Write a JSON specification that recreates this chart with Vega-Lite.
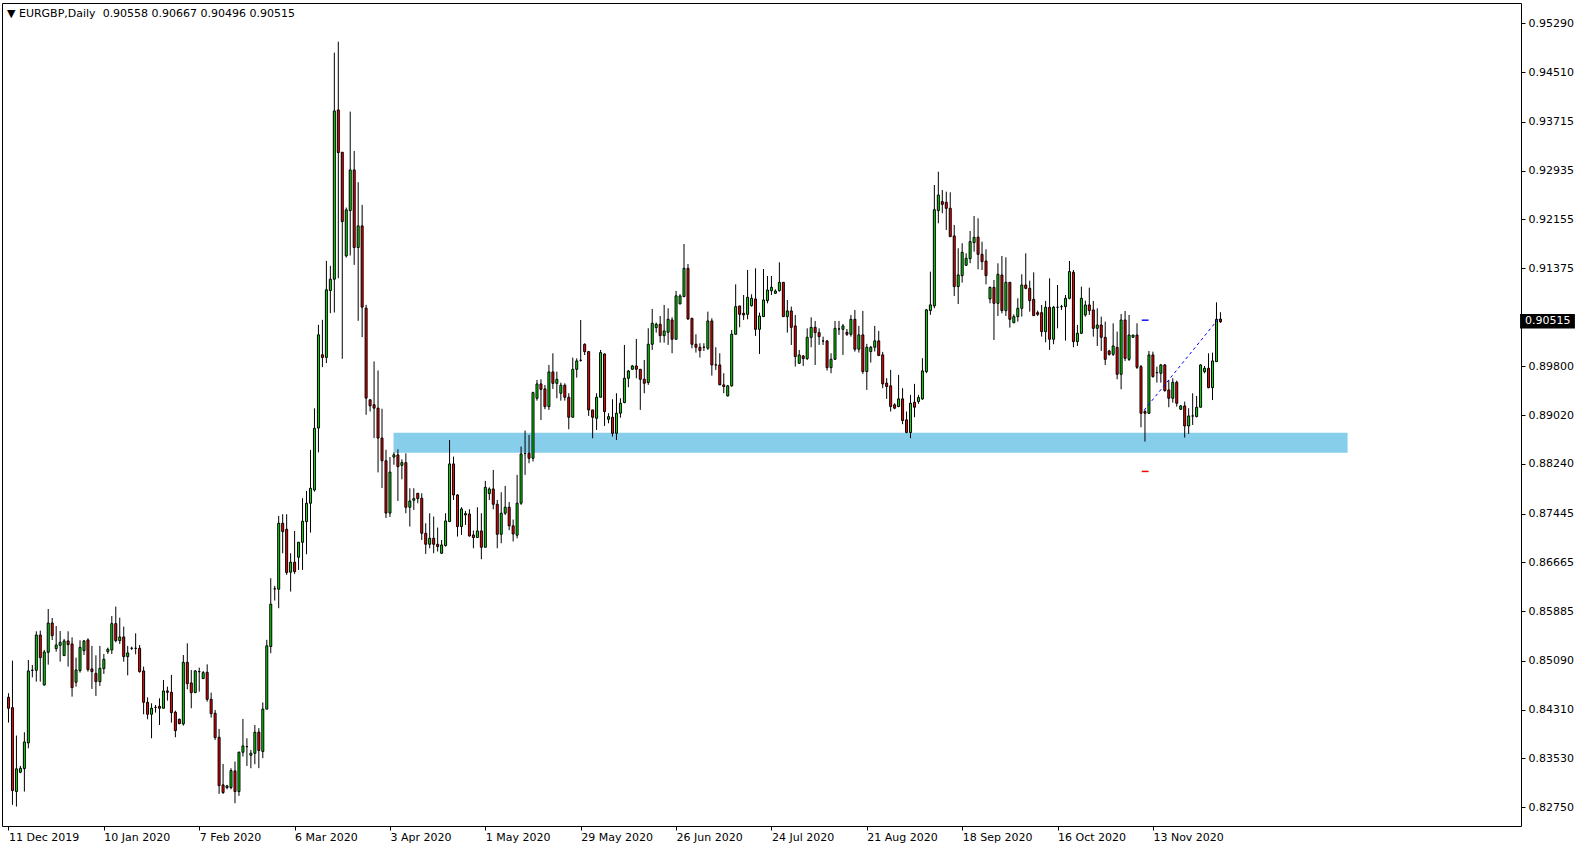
{
"$schema": "https://vega.github.io/schema/vega-lite/v6.json",
"width": 1519, "height": 823,
"autosize": {"type": "none"},
"padding": {"left": 2, "top": 3, "right": 64, "bottom": 24},
"background": "white",
"config": {"view": {"stroke": "black", "strokeWidth": 1}, "font": "DejaVu Sans"},
"title": {"text": "▼ EURGBP,Daily\u00a0 0.90558 0.90667 0.90496 0.90515", "anchor": "start", "orient": "top", "frame": "group", "offset": -16, "dx": 5, "font": "DejaVu Sans", "fontSize": 11, "fontWeight": "normal", "color": "black"},
"datasets": {
"candles": [
{"i":0,"o":0.84507,"h":0.84571,"l":0.84102,"c":0.84331},
{"i":1,"o":0.84341,"h":0.85093,"l":0.82785,"c":0.83014},
{"i":2,"o":0.82998,"h":0.83894,"l":0.82758,"c":0.83361},
{"i":3,"o":0.83307,"h":0.83409,"l":0.83292,"c":0.83371},
{"i":4,"o":0.83366,"h":0.83947,"l":0.82998,"c":0.83792},
{"i":5,"o":0.83776,"h":0.85104,"l":0.83691,"c":0.84928},
{"i":6,"o":0.84938,"h":0.85024,"l":0.84826,"c":0.84938},
{"i":7,"o":0.84938,"h":0.85562,"l":0.84757,"c":0.85503},
{"i":8,"o":0.85503,"h":0.85573,"l":0.84757,"c":0.85141},
{"i":9,"o":0.84704,"h":0.85264,"l":0.84693,"c":0.85232},
{"i":10,"o":0.85226,"h":0.85919,"l":0.85029,"c":0.85695},
{"i":11,"o":0.85695,"h":0.85775,"l":0.85423,"c":0.85493},
{"i":12,"o":0.85285,"h":0.85647,"l":0.85237,"c":0.85344},
{"i":13,"o":0.85338,"h":0.85567,"l":0.85077,"c":0.85386},
{"i":14,"o":0.85173,"h":0.8544,"l":0.85173,"c":0.85408},
{"i":15,"o":0.85408,"h":0.85562,"l":0.84997,"c":0.85349},
{"i":16,"o":0.8536,"h":0.85466,"l":0.84517,"c":0.84661},
{"i":17,"o":0.84747,"h":0.85141,"l":0.84677,"c":0.84944},
{"i":18,"o":0.84933,"h":0.85418,"l":0.84901,"c":0.85306},
{"i":19,"o":0.85253,"h":0.85424,"l":0.85184,"c":0.85408},
{"i":20,"o":0.85424,"h":0.8545,"l":0.84917,"c":0.84949},
{"i":21,"o":0.8496,"h":0.85328,"l":0.8464,"c":0.84917},
{"i":22,"o":0.8489,"h":0.85178,"l":0.84528,"c":0.84757},
{"i":23,"o":0.84757,"h":0.85328,"l":0.84688,"c":0.8497},
{"i":24,"o":0.84965,"h":0.852,"l":0.8488,"c":0.85114},
{"i":25,"o":0.85237,"h":0.85301,"l":0.852,"c":0.85274},
{"i":26,"o":0.85264,"h":0.85807,"l":0.852,"c":0.85685},
{"i":27,"o":0.85685,"h":0.85958,"l":0.85386,"c":0.85413},
{"i":28,"o":0.85413,"h":0.85781,"l":0.8536,"c":0.85472},
{"i":29,"o":0.85472,"h":0.85637,"l":0.85077,"c":0.85157},
{"i":30,"o":0.85157,"h":0.85328,"l":0.84858,"c":0.85216},
{"i":31,"o":0.8529,"h":0.85317,"l":0.85263,"c":0.8529},
{"i":32,"o":0.8529,"h":0.8553,"l":0.85194,"c":0.8529},
{"i":33,"o":0.8529,"h":0.85343,"l":0.84901,"c":0.84917},
{"i":34,"o":0.84928,"h":0.84997,"l":0.84235,"c":0.84426},
{"i":35,"o":0.84426,"h":0.84506,"l":0.84155,"c":0.84235},
{"i":36,"o":0.84235,"h":0.8441,"l":0.83851,"c":0.84331},
{"i":37,"o":0.84346,"h":0.84384,"l":0.84261,"c":0.84346},
{"i":38,"o":0.84362,"h":0.8449,"l":0.84064,"c":0.84331},
{"i":39,"o":0.84331,"h":0.84784,"l":0.84331,"c":0.84608},
{"i":40,"o":0.84608,"h":0.84677,"l":0.84453,"c":0.84587},
{"i":41,"o":0.84587,"h":0.84864,"l":0.84101,"c":0.84261},
{"i":42,"o":0.84267,"h":0.84293,"l":0.83867,"c":0.83973},
{"i":43,"o":0.84155,"h":0.84165,"l":0.84075,"c":0.84085},
{"i":44,"o":0.8408,"h":0.85183,"l":0.84053,"c":0.85066},
{"i":45,"o":0.85066,"h":0.8537,"l":0.84634,"c":0.84725},
{"i":46,"o":0.84736,"h":0.84943,"l":0.84331,"c":0.84581},
{"i":47,"o":0.84581,"h":0.84943,"l":0.84581,"c":0.84928},
{"i":48,"o":0.84917,"h":0.84981,"l":0.84597,"c":0.84917},
{"i":49,"o":0.84805,"h":0.84928,"l":0.84805,"c":0.84901},
{"i":50,"o":0.84906,"h":0.85034,"l":0.84437,"c":0.84474},
{"i":51,"o":0.84474,"h":0.84581,"l":0.84181,"c":0.84245},
{"i":52,"o":0.84251,"h":0.84304,"l":0.83824,"c":0.83862},
{"i":53,"o":0.83867,"h":0.84,"l":0.82961,"c":0.83094},
{"i":54,"o":0.83105,"h":0.8344,"l":0.82961,"c":0.82982},
{"i":55,"o":0.83062,"h":0.83105,"l":0.83035,"c":0.83089},
{"i":56,"o":0.83062,"h":0.83371,"l":0.83035,"c":0.83334},
{"i":57,"o":0.83329,"h":0.83478,"l":0.82811,"c":0.82998},
{"i":58,"o":0.82998,"h":0.83638,"l":0.82929,"c":0.83627},
{"i":59,"o":0.83627,"h":0.8416,"l":0.83558,"c":0.83728},
{"i":60,"o":0.83717,"h":0.83851,"l":0.83408,"c":0.83717},
{"i":61,"o":0.83579,"h":0.83664,"l":0.83371,"c":0.83611},
{"i":62,"o":0.83611,"h":0.84064,"l":0.83435,"c":0.83947},
{"i":63,"o":0.83949,"h":0.84013,"l":0.83373,"c":0.83656},
{"i":64,"o":0.8364,"h":0.84424,"l":0.83533,"c":0.84317},
{"i":65,"o":0.84317,"h":0.85426,"l":0.84317,"c":0.8533},
{"i":66,"o":0.85319,"h":0.86412,"l":0.85212,"c":0.85996},
{"i":67,"o":0.86241,"h":0.86289,"l":0.86055,"c":0.86241},
{"i":68,"o":0.86236,"h":0.87408,"l":0.85932,"c":0.87291},
{"i":69,"o":0.87291,"h":0.87435,"l":0.86811,"c":0.87158},
{"i":70,"o":0.87195,"h":0.87435,"l":0.86465,"c":0.86502},
{"i":71,"o":0.86508,"h":0.86811,"l":0.86198,"c":0.86668},
{"i":72,"o":0.86668,"h":0.87168,"l":0.86481,"c":0.86518},
{"i":73,"o":0.86747,"h":0.86987,"l":0.86545,"c":0.86987},
{"i":74,"o":0.86987,"h":0.87691,"l":0.86545,"c":0.87323},
{"i":75,"o":0.87318,"h":0.87808,"l":0.86795,"c":0.87611},
{"i":76,"o":0.87611,"h":0.88464,"l":0.87142,"c":0.87851},
{"i":77,"o":0.87824,"h":0.8913,"l":0.87797,"c":0.8881},
{"i":78,"o":0.88814,"h":0.90466,"l":0.88425,"c":0.90306},
{"i":79,"o":0.89986,"h":0.90546,"l":0.89789,"c":0.89944},
{"i":80,"o":0.89944,"h":0.91489,"l":0.89853,"c":0.91026},
{"i":81,"o":0.91015,"h":0.9141,"l":0.90652,"c":0.91196},
{"i":82,"o":0.91196,"h":0.94821,"l":0.90663,"c":0.93888},
{"i":83,"o":0.93904,"h":0.94996,"l":0.91212,"c":0.93222},
{"i":84,"o":0.93227,"h":0.93227,"l":0.89922,"c":0.92118},
{"i":85,"o":0.91569,"h":0.92342,"l":0.91543,"c":0.92305},
{"i":86,"o":0.92294,"h":0.93877,"l":0.91575,"c":0.92944},
{"i":87,"o":0.92944,"h":0.93248,"l":0.91425,"c":0.91703},
{"i":88,"o":0.91703,"h":0.92747,"l":0.9053,"c":0.92049},
{"i":89,"o":0.92049,"h":0.92385,"l":0.90269,"c":0.90749},
{"i":90,"o":0.90733,"h":0.90786,"l":0.89027,"c":0.89293},
{"i":91,"o":0.89267,"h":0.89267,"l":0.8908,"c":0.89171},
{"i":92,"o":0.89187,"h":0.8988,"l":0.88654,"c":0.89133},
{"i":93,"o":0.89133,"h":0.89736,"l":0.88105,"c":0.88654},
{"i":94,"o":0.88654,"h":0.89123,"l":0.87854,"c":0.88291},
{"i":95,"o":0.88291,"h":0.88467,"l":0.87375,"c":0.87454},
{"i":96,"o":0.87454,"h":0.8835,"l":0.87391,"c":0.8811},
{"i":97,"o":0.8835,"h":0.88425,"l":0.88227,"c":0.88387},
{"i":98,"o":0.88384,"h":0.88474,"l":0.87648,"c":0.88197},
{"i":99,"o":0.88218,"h":0.88314,"l":0.87994,"c":0.88261},
{"i":100,"o":0.88261,"h":0.8841,"l":0.87451,"c":0.87547},
{"i":101,"o":0.87547,"h":0.87851,"l":0.87238,"c":0.87648},
{"i":102,"o":0.87659,"h":0.87851,"l":0.87504,"c":0.87685},
{"i":103,"o":0.87771,"h":0.87771,"l":0.87611,"c":0.87685},
{"i":104,"o":0.87691,"h":0.87771,"l":0.87024,"c":0.87131},
{"i":105,"o":0.87131,"h":0.87291,"l":0.86801,"c":0.86955},
{"i":106,"o":0.86955,"h":0.87451,"l":0.86891,"c":0.87051},
{"i":107,"o":0.87051,"h":0.87398,"l":0.86811,"c":0.86955},
{"i":108,"o":0.86955,"h":0.87222,"l":0.86838,"c":0.86918},
{"i":109,"o":0.86811,"h":0.87024,"l":0.86801,"c":0.86944},
{"i":110,"o":0.86934,"h":0.87451,"l":0.86918,"c":0.87328},
{"i":111,"o":0.87318,"h":0.88623,"l":0.87318,"c":0.8824},
{"i":112,"o":0.8824,"h":0.88357,"l":0.87664,"c":0.87744},
{"i":113,"o":0.87744,"h":0.87755,"l":0.87078,"c":0.87238},
{"i":114,"o":0.87238,"h":0.87547,"l":0.87104,"c":0.8752},
{"i":115,"o":0.87424,"h":0.87488,"l":0.87264,"c":0.87446},
{"i":116,"o":0.8744,"h":0.87515,"l":0.87078,"c":0.87088},
{"i":117,"o":0.87104,"h":0.87174,"l":0.86891,"c":0.87062},
{"i":118,"o":0.87062,"h":0.87547,"l":0.87062,"c":0.87168},
{"i":119,"o":0.87168,"h":0.87451,"l":0.86715,"c":0.86907},
{"i":120,"o":0.86907,"h":0.87968,"l":0.86907,"c":0.87866},
{"i":121,"o":0.87765,"h":0.87866,"l":0.87664,"c":0.8784},
{"i":122,"o":0.8784,"h":0.88144,"l":0.87515,"c":0.87595},
{"i":123,"o":0.87595,"h":0.87664,"l":0.86891,"c":0.87115},
{"i":124,"o":0.87115,"h":0.87787,"l":0.86971,"c":0.87451},
{"i":125,"o":0.87452,"h":0.87889,"l":0.87424,"c":0.87547},
{"i":126,"o":0.87547,"h":0.8763,"l":0.8718,"c":0.8725},
{"i":127,"o":0.8725,"h":0.8735,"l":0.87,"c":0.8712},
{"i":128,"o":0.871,"h":0.88065,"l":0.8705,"c":0.87612},
{"i":129,"o":0.87612,"h":0.88518,"l":0.87585,"c":0.884},
{"i":130,"o":0.88406,"h":0.88774,"l":0.88065,"c":0.88406},
{"i":131,"o":0.88411,"h":0.88704,"l":0.88251,"c":0.88331},
{"i":132,"o":0.88331,"h":0.89397,"l":0.88278,"c":0.89381},
{"i":133,"o":0.89291,"h":0.89584,"l":0.89253,"c":0.8952},
{"i":134,"o":0.8952,"h":0.89594,"l":0.88944,"c":0.89434},
{"i":135,"o":0.8944,"h":0.89504,"l":0.89115,"c":0.89157},
{"i":136,"o":0.89157,"h":0.89824,"l":0.89104,"c":0.89712},
{"i":137,"o":0.89712,"h":0.9001,"l":0.8944,"c":0.8953},
{"i":138,"o":0.8953,"h":0.89717,"l":0.89291,"c":0.89594},
{"i":139,"o":0.89371,"h":0.89541,"l":0.89253,"c":0.89499},
{"i":140,"o":0.89499,"h":0.8953,"l":0.89253,"c":0.89307},
{"i":141,"o":0.89307,"h":0.89371,"l":0.88795,"c":0.88987},
{"i":142,"o":0.88987,"h":0.89941,"l":0.88987,"c":0.89754},
{"i":143,"o":0.89754,"h":0.8993,"l":0.89621,"c":0.89888},
{"i":144,"o":0.89898,"h":0.90543,"l":0.89877,"c":0.89898},
{"i":145,"o":0.90154,"h":0.9017,"l":0.89983,"c":0.90037},
{"i":146,"o":0.90037,"h":0.90047,"l":0.89008,"c":0.89104},
{"i":147,"o":0.89104,"h":0.89104,"l":0.88651,"c":0.88987},
{"i":148,"o":0.88971,"h":0.89371,"l":0.88784,"c":0.89307},
{"i":149,"o":0.89307,"h":0.90063,"l":0.89307,"c":0.90021},
{"i":150,"o":0.89999,"h":0.9001,"l":0.88848,"c":0.89077},
{"i":151,"o":0.88955,"h":0.89051,"l":0.88891,"c":0.88997},
{"i":152,"o":0.88987,"h":0.89275,"l":0.88678,"c":0.88731},
{"i":153,"o":0.88731,"h":0.89371,"l":0.88624,"c":0.89051},
{"i":154,"o":0.89052,"h":0.89291,"l":0.8898,"c":0.89211},
{"i":155,"o":0.89222,"h":0.90144,"l":0.89211,"c":0.89611},
{"i":156,"o":0.89611,"h":0.89744,"l":0.89467,"c":0.89728},
{"i":157,"o":0.89755,"h":0.89824,"l":0.89744,"c":0.89808},
{"i":158,"o":0.89808,"h":0.9024,"l":0.89611,"c":0.89755},
{"i":159,"o":0.89755,"h":0.89755,"l":0.89105,"c":0.89595},
{"i":160,"o":0.89595,"h":0.89904,"l":0.89371,"c":0.89531},
{"i":161,"o":0.89542,"h":0.90411,"l":0.89505,"c":0.90155},
{"i":162,"o":0.90155,"h":0.9072,"l":0.90064,"c":0.90491},
{"i":163,"o":0.90421,"h":0.90501,"l":0.90341,"c":0.90475},
{"i":164,"o":0.90475,"h":0.90608,"l":0.90181,"c":0.90293},
{"i":165,"o":0.90293,"h":0.90784,"l":0.90181,"c":0.90368},
{"i":166,"o":0.90347,"h":0.90731,"l":0.90144,"c":0.90555},
{"i":167,"o":0.90544,"h":0.90587,"l":0.90011,"c":0.90235},
{"i":168,"o":0.90235,"h":0.91008,"l":0.90235,"c":0.9093},
{"i":169,"o":0.908,"h":0.90955,"l":0.908,"c":0.90928},
{"i":170,"o":0.90917,"h":0.91759,"l":0.90917,"c":0.9137},
{"i":171,"o":0.9137,"h":0.91439,"l":0.90544,"c":0.9056},
{"i":172,"o":0.90571,"h":0.90571,"l":0.90091,"c":0.90155},
{"i":173,"o":0.90155,"h":0.90315,"l":0.90022,"c":0.90107},
{"i":174,"o":0.90107,"h":0.90171,"l":0.89942,"c":0.90054},
{"i":175,"o":0.90107,"h":0.90171,"l":0.90048,"c":0.90107},
{"i":176,"o":0.90091,"h":0.90677,"l":0.90064,"c":0.90528},
{"i":177,"o":0.90528,"h":0.90571,"l":0.89654,"c":0.89824},
{"i":178,"o":0.89824,"h":0.90107,"l":0.89744,"c":0.89824},
{"i":179,"o":0.89824,"h":0.90011,"l":0.89505,"c":0.89505},
{"i":180,"o":0.89505,"h":0.89691,"l":0.89371,"c":0.89478},
{"i":181,"o":0.89329,"h":0.89505,"l":0.89318,"c":0.89489},
{"i":182,"o":0.89489,"h":0.90384,"l":0.89478,"c":0.90315},
{"i":183,"o":0.90315,"h":0.91114,"l":0.90315,"c":0.90757},
{"i":184,"o":0.90768,"h":0.90768,"l":0.90426,"c":0.90634},
{"i":185,"o":0.9065,"h":0.90943,"l":0.90544,"c":0.90624},
{"i":186,"o":0.90634,"h":0.91343,"l":0.90554,"c":0.90906},
{"i":187,"o":0.90773,"h":0.90954,"l":0.90757,"c":0.9089},
{"i":188,"o":0.9088,"h":0.9137,"l":0.90288,"c":0.90394},
{"i":189,"o":0.90394,"h":0.90661,"l":0.9,"c":0.90608},
{"i":190,"o":0.90597,"h":0.91359,"l":0.90597,"c":0.90864},
{"i":191,"o":0.90853,"h":0.91247,"l":0.9081,"c":0.91023},
{"i":192,"o":0.91013,"h":0.91247,"l":0.90943,"c":0.91066},
{"i":193,"o":0.9097,"h":0.91034,"l":0.90959,"c":0.91007},
{"i":194,"o":0.91013,"h":0.91466,"l":0.90997,"c":0.91146},
{"i":195,"o":0.91146,"h":0.91146,"l":0.90597,"c":0.90597},
{"i":196,"o":0.90597,"h":0.90864,"l":0.90341,"c":0.90688},
{"i":197,"o":0.90688,"h":0.90757,"l":0.90144,"c":0.90426},
{"i":198,"o":0.90448,"h":0.90624,"l":0.89798,"c":0.89957},
{"i":199,"o":0.89851,"h":0.90064,"l":0.8984,"c":0.89984},
{"i":200,"o":0.89968,"h":0.89984,"l":0.89808,"c":0.89925},
{"i":201,"o":0.89925,"h":0.9041,"l":0.89904,"c":0.90266},
{"i":202,"o":0.90266,"h":0.90586,"l":0.90107,"c":0.90426},
{"i":203,"o":0.90426,"h":0.90528,"l":0.89824,"c":0.90341},
{"i":204,"o":0.90341,"h":0.9041,"l":0.90144,"c":0.90277},
{"i":205,"o":0.90208,"h":0.90277,"l":0.90144,"c":0.90208},
{"i":206,"o":0.90208,"h":0.90224,"l":0.89734,"c":0.89781},
{"i":207,"o":0.89781,"h":0.90011,"l":0.89691,"c":0.89915},
{"i":208,"o":0.89915,"h":0.90528,"l":0.89904,"c":0.9041},
{"i":209,"o":0.904,"h":0.90528,"l":0.90304,"c":0.904},
{"i":210,"o":0.90394,"h":0.9048,"l":0.89984,"c":0.90448},
{"i":211,"o":0.90346,"h":0.904,"l":0.90288,"c":0.90314},
{"i":212,"o":0.90314,"h":0.90624,"l":0.90277,"c":0.90554},
{"i":213,"o":0.90554,"h":0.90704,"l":0.90037,"c":0.90075},
{"i":214,"o":0.90076,"h":0.90449,"l":0.90022,"c":0.90305},
{"i":215,"o":0.90305,"h":0.90689,"l":0.89681,"c":0.89718},
{"i":216,"o":0.89718,"h":0.90161,"l":0.89425,"c":0.90107},
{"i":217,"o":0.90038,"h":0.90129,"l":0.89862,"c":0.90107},
{"i":218,"o":0.90107,"h":0.90449,"l":0.90038,"c":0.90209},
{"i":219,"o":0.90209,"h":0.90369,"l":0.89974,"c":0.89974},
{"i":220,"o":0.89985,"h":0.90033,"l":0.89452,"c":0.89521},
{"i":221,"o":0.89532,"h":0.89612,"l":0.89281,"c":0.89479},
{"i":222,"o":0.89489,"h":0.89745,"l":0.89079,"c":0.89159},
{"i":223,"o":0.89186,"h":0.89212,"l":0.89116,"c":0.89132},
{"i":224,"o":0.89159,"h":0.89665,"l":0.89148,"c":0.89281},
{"i":225,"o":0.89281,"h":0.89452,"l":0.88876,"c":0.88935},
{"i":226,"o":0.88945,"h":0.89079,"l":0.88732,"c":0.88743},
{"i":227,"o":0.88743,"h":0.89345,"l":0.88652,"c":0.89212},
{"i":228,"o":0.89228,"h":0.89521,"l":0.88988,"c":0.89148},
{"i":229,"o":0.89239,"h":0.89345,"l":0.89202,"c":0.89303},
{"i":230,"o":0.89281,"h":0.89932,"l":0.89265,"c":0.89729},
{"i":231,"o":0.89718,"h":0.90721,"l":0.89692,"c":0.90705},
{"i":232,"o":0.90694,"h":0.91317,"l":0.90625,"c":0.90785},
{"i":233,"o":0.90769,"h":0.92703,"l":0.90731,"c":0.92308},
{"i":234,"o":0.92293,"h":0.92916,"l":0.9209,"c":0.92543},
{"i":235,"o":0.92437,"h":0.92623,"l":0.9225,"c":0.92394},
{"i":236,"o":0.92426,"h":0.92597,"l":0.91984,"c":0.9233},
{"i":237,"o":0.9233,"h":0.92586,"l":0.91877,"c":0.91877},
{"i":238,"o":0.91888,"h":0.92064,"l":0.90928,"c":0.91078},
{"i":239,"o":0.91078,"h":0.91691,"l":0.908,"c":0.91264},
{"i":240,"o":0.91253,"h":0.91771,"l":0.91142,"c":0.91627},
{"i":241,"o":0.91419,"h":0.91611,"l":0.91408,"c":0.91531},
{"i":242,"o":0.91525,"h":0.91968,"l":0.91451,"c":0.91797},
{"i":243,"o":0.91781,"h":0.92208,"l":0.91637,"c":0.91866},
{"i":244,"o":0.91869,"h":0.9217,"l":0.91354,"c":0.91594},
{"i":245,"o":0.91594,"h":0.91796,"l":0.91343,"c":0.91477},
{"i":246,"o":0.91487,"h":0.91674,"l":0.91114,"c":0.91253},
{"i":247,"o":0.9088,"h":0.91077,"l":0.9081,"c":0.91066},
{"i":248,"o":0.91066,"h":0.91183,"l":0.90224,"c":0.9081},
{"i":249,"o":0.9081,"h":0.9145,"l":0.90608,"c":0.91274},
{"i":250,"o":0.91263,"h":0.91567,"l":0.9065,"c":0.90693},
{"i":251,"o":0.90693,"h":0.91546,"l":0.90608,"c":0.91146},
{"i":252,"o":0.91146,"h":0.91146,"l":0.90421,"c":0.90554},
{"i":253,"o":0.90501,"h":0.90634,"l":0.9049,"c":0.90597},
{"i":254,"o":0.90597,"h":0.9089,"l":0.90517,"c":0.9073},
{"i":255,"o":0.9073,"h":0.91274,"l":0.90597,"c":0.91103},
{"i":256,"o":0.91103,"h":0.9161,"l":0.91034,"c":0.9105},
{"i":257,"o":0.9105,"h":0.91173,"l":0.90677,"c":0.90853},
{"i":258,"o":0.90874,"h":0.91306,"l":0.90613,"c":0.90613},
{"i":259,"o":0.90661,"h":0.90693,"l":0.90608,"c":0.90634},
{"i":260,"o":0.90661,"h":0.90784,"l":0.90277,"c":0.90357},
{"i":261,"o":0.90357,"h":0.90848,"l":0.90187,"c":0.90746},
{"i":262,"o":0.90746,"h":0.9121,"l":0.90064,"c":0.90235},
{"i":263,"o":0.90235,"h":0.90768,"l":0.90155,"c":0.90746},
{"i":264,"o":0.90746,"h":0.91103,"l":0.9041,"c":0.90746},
{"i":265,"o":0.90757,"h":0.90784,"l":0.90704,"c":0.90757},
{"i":266,"o":0.90757,"h":0.90944,"l":0.90213,"c":0.9089},
{"i":267,"o":0.9089,"h":0.91487,"l":0.90874,"c":0.91317},
{"i":268,"o":0.91306,"h":0.91343,"l":0.90107,"c":0.90197},
{"i":269,"o":0.90197,"h":0.90464,"l":0.90128,"c":0.90331},
{"i":270,"o":0.90331,"h":0.91077,"l":0.9032,"c":0.9089},
{"i":271,"o":0.90624,"h":0.90853,"l":0.90597,"c":0.90784},
{"i":272,"o":0.90784,"h":0.91061,"l":0.90624,"c":0.90693},
{"i":273,"o":0.90704,"h":0.90848,"l":0.90277,"c":0.9041},
{"i":274,"o":0.9041,"h":0.9073,"l":0.90128,"c":0.90463},
{"i":275,"o":0.90463,"h":0.90597,"l":0.90048,"c":0.90266},
{"i":276,"o":0.90266,"h":0.90517,"l":0.89824,"c":0.89914},
{"i":277,"o":0.90048,"h":0.90064,"l":0.89973,"c":0.89994},
{"i":278,"o":0.89994,"h":0.9049,"l":0.89968,"c":0.90128},
{"i":279,"o":0.90106,"h":0.90357,"l":0.89595,"c":0.89675},
{"i":280,"o":0.89675,"h":0.90639,"l":0.89435,"c":0.90543},
{"i":281,"o":0.90543,"h":0.90687,"l":0.89888,"c":0.8993},
{"i":282,"o":0.89914,"h":0.90623,"l":0.89888,"c":0.90303},
{"i":283,"o":0.90266,"h":0.90303,"l":0.90266,"c":0.90303},
{"i":284,"o":0.90303,"h":0.9049,"l":0.8976,"c":0.89786},
{"i":285,"o":0.89797,"h":0.89824,"l":0.88827,"c":0.89051},
{"i":286,"o":0.89078,"h":0.89104,"l":0.88598,"c":0.89051},
{"i":287,"o":0.89051,"h":0.90048,"l":0.8904,"c":0.89984},
{"i":288,"o":0.89984,"h":0.90037,"l":0.89621,"c":0.89637},
{"i":289,"o":0.89701,"h":0.89797,"l":0.89541,"c":0.89701},
{"i":290,"o":0.89691,"h":0.8984,"l":0.89541,"c":0.89824},
{"i":291,"o":0.89824,"h":0.8984,"l":0.89397,"c":0.89413},
{"i":292,"o":0.89424,"h":0.89584,"l":0.89147,"c":0.89291},
{"i":293,"o":0.89291,"h":0.89611,"l":0.89221,"c":0.89547},
{"i":294,"o":0.89547,"h":0.89573,"l":0.89157,"c":0.89211},
{"i":295,"o":0.89115,"h":0.89184,"l":0.89104,"c":0.89168},
{"i":296,"o":0.89168,"h":0.89237,"l":0.88662,"c":0.88848},
{"i":297,"o":0.88848,"h":0.89131,"l":0.8872,"c":0.89008},
{"i":298,"o":0.89008,"h":0.89371,"l":0.88864,"c":0.89008},
{"i":299,"o":0.88997,"h":0.89328,"l":0.88987,"c":0.89147},
{"i":300,"o":0.89147,"h":0.89834,"l":0.89147,"c":0.89824},
{"i":301,"o":0.89717,"h":0.89808,"l":0.89691,"c":0.8977},
{"i":302,"o":0.8977,"h":0.9001,"l":0.89451,"c":0.89461},
{"i":303,"o":0.89461,"h":0.90021,"l":0.89264,"c":0.89888},
{"i":304,"o":0.89877,"h":0.90826,"l":0.89877,"c":0.90554},
{"i":305,"o":0.90558,"h":0.90667,"l":0.90496,"c":0.90515}
],
"zone": [{"x1": 96.9, "x2": 337, "y1": 0.8842, "y2": 0.8874}],
"trend": [{"i": 285.8, "p": 0.8910}, {"i": 304.6, "p": 0.9057}],
"levels": [{"x1": 285.2, "x2": 286.9, "p": 0.9054, "kind": "tp"}, {"x1": 285.2, "x2": 286.9, "p": 0.8812, "kind": "sl"}],
"last": [{"x1": 380.4, "x2": 394.2, "y1": 0.90407, "y2": 0.90639, "p": 0.90522, "label": "0.90515"}]
},
"layer": [
{
"data": {"name": "zone"},
"mark": {"type": "rect", "color": "#87CEEB"},
"encoding": {
"x": {"field": "x1", "type": "quantitative", "title": null, "scale": {"domain": [-0.375, 379.375], "nice": false, "zero": false},
"axis": {"orient": "bottom", "values": [0,24,48,72,96,120,144,168,192,216,240,264,288], "grid": false, "domain": false, "ticks": true, "tickSize": 4, "tickColor": "black", "labelAlign": "left", "labelBaseline": "top", "labelPadding": 1, "labelFlush": false, "labelOverlap": false, "labelFont": "DejaVu Sans", "labelFontSize": 11, "labelColor": "black", "labelDx": -4, "title": null,
"labelExpr": "datum.value==0?'11 Dec 2019':datum.value==24?'10 Jan 2020':datum.value==48?'7 Feb 2020':datum.value==72?'6 Mar 2020':datum.value==96?'3 Apr 2020':datum.value==120?'1 May 2020':datum.value==144?'29 May 2020':datum.value==168?'26 Jun 2020':datum.value==192?'24 Jul 2020':datum.value==216?'21 Aug 2020':datum.value==240?'18 Sep 2020':datum.value==264?'16 Oct 2020':'13 Nov 2020'"}},
"x2": {"field": "x2"},
"y": {"field": "y1", "type": "quantitative", "title": null, "scale": {"domain": [0.82447, 0.95615], "nice": false, "zero": false},
"axis": {"orient": "right", "values": [0.8275,0.8353,0.8431,0.8509,0.85885,0.86665,0.87445,0.8824,0.8902,0.898,0.91375,0.92155,0.92935,0.93715,0.9451,0.9529], "format": ".5f", "grid": false, "domain": false, "ticks": true, "tickSize": 4, "tickColor": "black", "labelPadding": 3, "labelFont": "DejaVu Sans", "labelFontSize": 11, "labelColor": "black", "labelOverlap": false, "title": null}},
"y2": {"field": "y2"}
}
},
{
"data": {"name": "candles"},
"mark": {"type": "rule", "color": "black", "strokeWidth": 1},
"encoding": {
"x": {"field": "i", "type": "quantitative", "title": null, "scale": {"domain": [-0.375, 379.375], "nice": false, "zero": false}},
"y": {"field": "l", "type": "quantitative", "title": null, "scale": {"domain": [0.82447, 0.95615], "nice": false, "zero": false}},
"y2": {"field": "h"}
}
},
{
"data": {"name": "candles"},
"mark": {"type": "bar", "size": 2, "stroke": "black", "strokeWidth": 1},
"encoding": {
"x": {"field": "i", "type": "quantitative", "title": null, "scale": {"domain": [-0.375, 379.375], "nice": false, "zero": false}},
"y": {"field": "o", "type": "quantitative", "title": null, "scale": {"domain": [0.82447, 0.95615], "nice": false, "zero": false}},
"y2": {"field": "c"},
"fill": {"condition": {"test": "datum.c >= datum.o", "value": "#00e600"}, "value": "#ff0000"}
}
},
{
"data": {"name": "trend"},
"mark": {"type": "line", "color": "#0000ff", "strokeWidth": 1, "strokeDash": [3, 3]},
"encoding": {
"x": {"field": "i", "type": "quantitative", "title": null, "scale": {"domain": [-0.375, 379.375], "nice": false, "zero": false}},
"y": {"field": "p", "type": "quantitative", "title": null, "scale": {"domain": [0.82447, 0.95615], "nice": false, "zero": false}}
}
},
{
"data": {"name": "levels"},
"mark": {"type": "rule", "strokeWidth": 1.5},
"encoding": {
"x": {"field": "x1", "type": "quantitative", "title": null, "scale": {"domain": [-0.375, 379.375], "nice": false, "zero": false}},
"x2": {"field": "x2"},
"y": {"field": "p", "type": "quantitative", "title": null, "scale": {"domain": [0.82447, 0.95615], "nice": false, "zero": false}},
"color": {"field": "kind", "type": "nominal", "scale": {"domain": ["tp", "sl"], "range": ["#1010ff", "#ff0000"]}, "legend": null}
}
},
{
"data": {"name": "last"},
"mark": {"type": "rect", "color": "black", "clip": false},
"encoding": {
"x": {"field": "x1", "type": "quantitative", "title": null, "scale": {"domain": [-0.375, 379.375], "nice": false, "zero": false}},
"x2": {"field": "x2"},
"y": {"field": "y1", "type": "quantitative", "title": null, "scale": {"domain": [0.82447, 0.95615], "nice": false, "zero": false}},
"y2": {"field": "y2"}
}
},
{
"data": {"name": "last"},
"mark": {"type": "text", "color": "white", "align": "left", "baseline": "middle", "dx": 5, "font": "DejaVu Sans", "fontSize": 11, "clip": false},
"encoding": {
"x": {"field": "x1", "type": "quantitative", "title": null, "scale": {"domain": [-0.375, 379.375], "nice": false, "zero": false}},
"y": {"field": "p", "type": "quantitative", "title": null, "scale": {"domain": [0.82447, 0.95615], "nice": false, "zero": false}},
"text": {"field": "label"}
}
}
]
}
